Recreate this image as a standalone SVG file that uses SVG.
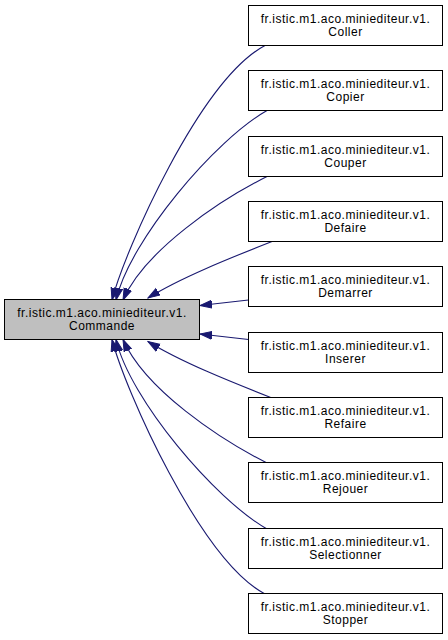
<svg xmlns="http://www.w3.org/2000/svg" width="448" height="640" viewBox="0 0 448 640">
<defs>
<marker id="arr" markerUnits="userSpaceOnUse" markerWidth="13" markerHeight="10" refX="12" refY="4.5" orient="auto">
<path d="M0,0.5 L12,4.5 L0,8.5 z" fill="#191970" stroke="#191970" stroke-width="1"/>
</marker>
<style>
.box{fill:#ffffff;stroke:#000000;stroke-width:1}
.main{fill:#bfbfbf;stroke:#000000;stroke-width:1}
text{font-family:"Liberation Sans",Arial,Helvetica,sans-serif;font-size:12px;letter-spacing:0.5px;text-anchor:middle;fill:#000}
.e{fill:none;stroke:#191970;stroke-width:1.1;marker-end:url(#arr)}
</style>
</defs>
<rect width="448" height="640" fill="#ffffff"/>
<g id="edges">
<path class="e" d="M265,45.5 C200,80 125,250 112,300"/>
<path class="e" d="M267,110.5 C215,140 130,240 116,300"/>
<path class="e" d="M267,176.5 C220,200 145,250 123,300"/>
<path class="e" d="M272,241.5 C230,258 180,278 148,298"/>
<path class="e" d="M248.5,300 L200,305.5"/>
<path class="e" d="M248.5,339.5 L200,334"/>
<path class="e" d="M272,398 C230,381.5 180,361.5 148,341.5"/>
<path class="e" d="M267,463 C220,439.5 145,389.5 123,339.5"/>
<path class="e" d="M267,529 C215,499.5 130,399.5 116,339.5"/>
<path class="e" d="M265,594 C200,559.5 125,389.5 112,339.5"/>
</g>
<g id="Commande">
<rect class="main" x="4.5" y="299.5" width="195" height="40"/>
<text x="102" y="316.5">fr.istic.m1.aco.miniediteur.v1.</text>
<text x="102" y="330">Commande</text>
</g>
<g id="Coller">
<rect class="box" x="248.5" y="5.5" width="194" height="40"/>
<text x="345.5" y="22.5">fr.istic.m1.aco.miniediteur.v1.</text>
<text x="345.5" y="36">Coller</text>
</g>
<g id="Copier">
<rect class="box" x="248.5" y="70.5" width="194" height="40"/>
<text x="345.5" y="87.5">fr.istic.m1.aco.miniediteur.v1.</text>
<text x="345.5" y="101">Copier</text>
</g>
<g id="Couper">
<rect class="box" x="248.5" y="136.5" width="194" height="40"/>
<text x="345.5" y="153.5">fr.istic.m1.aco.miniediteur.v1.</text>
<text x="345.5" y="167">Couper</text>
</g>
<g id="Defaire">
<rect class="box" x="248.5" y="201.5" width="194" height="40"/>
<text x="345.5" y="218.5">fr.istic.m1.aco.miniediteur.v1.</text>
<text x="345.5" y="232">Defaire</text>
</g>
<g id="Demarrer">
<rect class="box" x="248.5" y="266.5" width="194" height="40"/>
<text x="345.5" y="283.5">fr.istic.m1.aco.miniediteur.v1.</text>
<text x="345.5" y="297">Demarrer</text>
</g>
<g id="Inserer">
<rect class="box" x="248.5" y="332.5" width="194" height="40"/>
<text x="345.5" y="349.5">fr.istic.m1.aco.miniediteur.v1.</text>
<text x="345.5" y="363">Inserer</text>
</g>
<g id="Refaire">
<rect class="box" x="248.5" y="397.5" width="194" height="40"/>
<text x="345.5" y="414.5">fr.istic.m1.aco.miniediteur.v1.</text>
<text x="345.5" y="428">Refaire</text>
</g>
<g id="Rejouer">
<rect class="box" x="248.5" y="462.5" width="194" height="40"/>
<text x="345.5" y="479.5">fr.istic.m1.aco.miniediteur.v1.</text>
<text x="345.5" y="493">Rejouer</text>
</g>
<g id="Selectionner">
<rect class="box" x="248.5" y="528.5" width="194" height="40"/>
<text x="345.5" y="545.5">fr.istic.m1.aco.miniediteur.v1.</text>
<text x="345.5" y="559">Selectionner</text>
</g>
<g id="Stopper">
<rect class="box" x="248.5" y="593.5" width="194" height="40"/>
<text x="345.5" y="610.5">fr.istic.m1.aco.miniediteur.v1.</text>
<text x="345.5" y="624">Stopper</text>
</g>
</svg>
